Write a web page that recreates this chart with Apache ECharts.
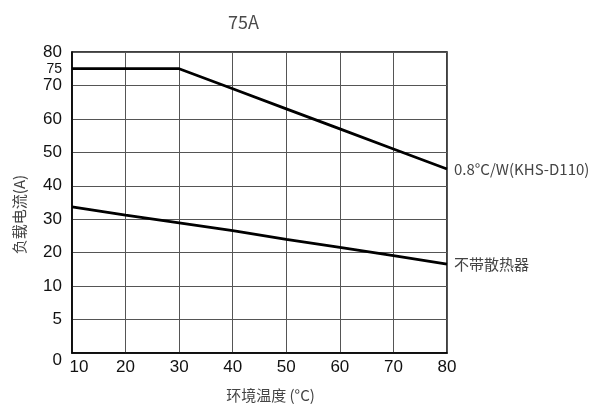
<!DOCTYPE html>
<html>
<head>
<meta charset="utf-8">
<script src="https://cdn.jsdelivr.net/npm/echarts@6/dist/echarts.min.js"></script>
<style>html,body{margin:0;padding:0;background:#fff}#c{width:591px;height:414px}</style>
</head>
<body>
<div id="c"></div>
<script>
// ---- data ----
const temps = [10, 20, 30, 40, 50, 60, 70, 80];
const withHeatsink = [75, 75, 75, 69, 63, 57, 51, 45];
const noHeatsink = [33.7, 31.2, 28.9, 26.6, 24.0, 21.6, 19.1, 16.6];
const yTicks = [0, 5, 10, 20, 30, 40, 50, 60, 70, 80];
const yExtraTick = 75;
const seriesNames = ['0.8°C/W(KHS-D110)', '不带散热器'];
const titleText = '75A';
const xName = '环境温度 (°C)';
const yName = '负载电流(A)';

// piecewise axis: each tick label occupies one equal step
function toPos(v) {
  for (let i = 0; i < yTicks.length - 1; i++) {
    if (v >= yTicks[i] && v <= yTicks[i + 1]) {
      return i + (v - yTicks[i]) / (yTicks[i + 1] - yTicks[i]);
    }
  }
  return yTicks.length - 1;
}
function posLabel(p) {
  const i = Math.round(p);
  if (Math.abs(p - i) < 1e-6 && i < yTicks.length) return String(yTicks[i]);
  return '';
}

const chart = echarts.init(document.getElementById('c'));
const lineStyle = { color: '#000', width: 2.8 };
const cjk = 'Noto Sans CJK SC';
chart.setOption({
  animation: false,
  title: {
    text: titleText, left: 223, top: 8,
    textStyle: { color: '#4a4a4a', fontSize: 18, fontWeight: 'normal', fontFamily: cjk }
  },
  grid: { left: 72, right: 144, top: 52, bottom: 61, show: true, borderColor: '#000', borderWidth: 1.5 },
  xAxis: {
    type: 'value', min: 10, max: 80, interval: 10,
    name: xName, nameLocation: 'middle', nameGap: 35,
    nameTextStyle: { color: '#444', fontSize: 15, fontFamily: cjk, padding: [0, 0, 0, 22] },
    axisLine: { show: true, lineStyle: { color: '#000', width: 1.5 } },
    axisTick: { show: false },
    splitLine: { show: true, lineStyle: { color: '#555', width: 1 } },
    axisLabel: {
      color: '#111', fontSize: 17, fontFamily: 'Liberation Sans', margin: 6,
      formatter: v => v === temps[0] ? '{f|' + v + '}' : String(v),
      rich: { f: { fontSize: 17, fontFamily: 'Liberation Sans', color: '#111', padding: [0, 0, 0, 14] } }
    }
  },
  yAxis: [{
    type: 'value', min: 0, max: yTicks.length - 1, interval: 1,
    name: yName, nameLocation: 'middle', nameGap: 45, nameRotate: 90,
    nameTextStyle: { color: '#444', fontSize: 15, fontFamily: cjk, padding: [0, 24, 0, 0] },
    axisLine: { show: true, lineStyle: { color: '#000', width: 1.5 } },
    axisTick: { show: false },
    splitLine: { show: true, lineStyle: { color: '#555', width: 1 } },
    axisLabel: {
      color: '#111', fontSize: 17, fontFamily: 'Liberation Sans', margin: 10,
      formatter: v => {
        const s = posLabel(v);
        return s === String(yTicks[0]) ? '{z|' + s + '}' : s;
      },
      rich: { z: { fontSize: 17, fontFamily: 'Liberation Sans', color: '#111', padding: [14, 0, 0, 0] } }
    }
  }, {
    type: 'value', min: 0, max: yTicks.length - 1, position: 'left',
    axisLine: { show: false }, splitLine: { show: false },
    axisTick: { show: false },
    axisLabel: {
      customValues: [toPos(yExtraTick)],
      color: '#111', fontSize: 14, fontFamily: 'Liberation Sans', margin: 10,
      formatter: () => String(yExtraTick)
    }
  }],
  series: [{
    name: seriesNames[0], type: 'line', symbol: 'none',
    data: temps.map((t, i) => [t, toPos(withHeatsink[i])]),
    lineStyle,
    endLabel: { show: true, formatter: seriesNames[0], color: '#444', fontSize: 15, distance: 7, fontFamily: cjk }
  }, {
    name: seriesNames[1], type: 'line', symbol: 'none',
    data: temps.map((t, i) => [t, toPos(noHeatsink[i])]),
    lineStyle,
    endLabel: { show: true, formatter: seriesNames[1], color: '#444', fontSize: 15, distance: 7, fontFamily: cjk }
  }]
});
</script>
</body>
</html>
